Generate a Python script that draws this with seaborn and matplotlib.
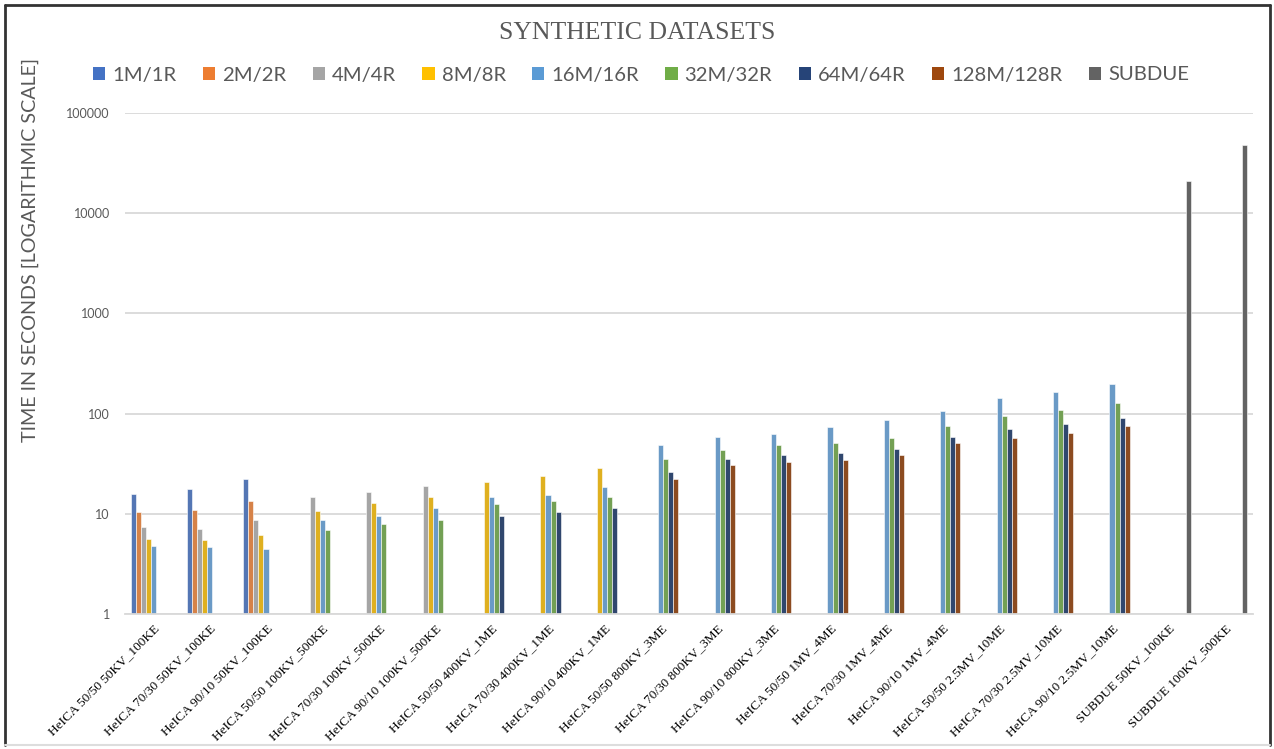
import numpy as np
import pandas as pd
import seaborn as sns
import matplotlib
matplotlib.use("Agg")
import matplotlib.pyplot as plt
from matplotlib.ticker import FixedLocator, FuncFormatter, NullLocator
from matplotlib.patches import Patch
from matplotlib.lines import Line2D

# ---- data -------------------------------------------------------------
categories = [
    "HeICA 50/50 50KV_100KE", "HeICA 70/30 50KV_100KE", "HeICA 90/10 50KV_100KE",
    "HeICA 50/50 100KV_500KE", "HeICA 70/30 100KV_500KE", "HeICA 90/10 100KV_500KE",
    "HeICA 50/50 400KV_1ME", "HeICA 70/30 400KV_1ME", "HeICA 90/10 400KV_1ME",
    "HeICA 50/50 800KV_3ME", "HeICA 70/30 800KV_3ME", "HeICA 90/10 800KV_3ME",
    "HeICA 50/50 1MV_4ME", "HeICA 70/30 1MV_4ME", "HeICA 90/10 1MV_4ME",
    "HeICA 50/50 2.5MV_10ME", "HeICA 70/30 2.5MV_10ME", "HeICA 90/10 2.5MV_10ME",
    "SUBDUE 50KV_100KE", "SUBDUE 100KV_500KE",
]
series_names = ["1M/1R", "2M/2R", "4M/4R", "8M/8R", "16M/16R",
                "32M/32R", "64M/64R", "128M/128R", "SUBDUE"]

N = None
t_1m   = [15.7, 17.5, 22.5, N, N, N, N, N, N, N, N, N, N, N, N, N, N, N, N, N]
t_2m   = [10.4, 10.9, 13.5, N, N, N, N, N, N, N, N, N, N, N, N, N, N, N, N, N]
t_4m   = [7.3, 7.1, 8.65, 14.8, 16.6, 18.8, N, N, N, N, N, N, N, N, N, N, N, N, N, N]
t_8m   = [5.6, 5.5, 6.1, 10.6, 12.7, 14.8, 20.6, 23.8, 28.6, N, N, N, N, N, N, N, N, N, N, N]
t_16m  = [4.75, 4.68, 4.47, 8.6, 9.6, 11.5, 14.7, 15.5, 18.6,
          48.6, 58.5, 63.0, 73.6, 85.7, 107.0, 144.5, 166.0, 198.0, N, N]
t_32m  = [N, N, N, 6.9, 7.9, 8.65, 12.6, 13.4, 14.6,
          35.2, 43.0, 48.2, 50.9, 57.5, 75.3, 94.8, 109.0, 127.0, N, N]
t_64m  = [N, N, N, N, N, N, 9.55, 10.5, 11.5,
          25.9, 34.9, 38.6, 40.1, 44.3, 58.5, 69.7, 78.2, 89.8, N, N]
t_128m = [N, N, N, N, N, N, N, N, N,
          22.5, 30.9, 32.6, 34.7, 38.6, 50.9, 57.5, 64.6, 75.3, N, N]
t_subdue = [N] * 18 + [21000, 47900]

series_values = [t_1m, t_2m, t_4m, t_8m, t_16m, t_32m, t_64m, t_128m, t_subdue]
colors = ["#4472C4", "#ED7D31", "#A5A5A5", "#FFC000", "#5B9BD5",
          "#70AD47", "#264478", "#9E480E", "#636363"]

y_ticks = [1, 10, 100, 1000, 10000, 100000]

rows = []
for name, vals in zip(series_names, series_values):
    for cat, v in zip(categories, vals):
        if v is not None:
            rows.append({"dataset": cat, "config": name, "time": v})
df = pd.DataFrame(rows)

# ---- figure -----------------------------------------------------------
sns.set_theme(style="white")
text_grey = "#595959"
sans = ["Lato", "DejaVu Sans"]
serif = ["Liberation Serif", "DejaVu Serif"]

W, H = 1274, 749
fig = plt.figure(figsize=(W / 100, H / 100), dpi=100)
fig.patch.set_facecolor("white")
ax = fig.add_axes([125 / W, 1 - 614 / H, (1253 - 125) / W, (614 - 113) / H])

sns.barplot(data=df, x="dataset", y="time", hue="config",
            order=categories, hue_order=series_names,
            palette=dict(zip(series_names, colors)),
            width=0.8, errorbar=None, dodge=True,
            edgecolor="white", linewidth=0.4, legend=False, ax=ax)

ax.set_yscale("log")
ax.set_ylim(1, 100000)
ax.set_xlim(-0.5, len(categories) - 0.5)
ax.yaxis.set_major_locator(FixedLocator(y_ticks))
ax.yaxis.set_minor_locator(NullLocator())
ax.yaxis.set_major_formatter(FuncFormatter(lambda v, p: f"{int(round(v))}"))
ax.grid(axis="y", color="#D9D9D9", linewidth=1.3)
ax.set_axisbelow(True)
for s in ["top", "right", "left"]:
    ax.spines[s].set_visible(False)
ax.spines["bottom"].set_color("#D9D9D9")
ax.spines["bottom"].set_linewidth(1.3)
ax.tick_params(axis="both", length=0)
ax.tick_params(axis="y", pad=11, labelsize=9, labelcolor=text_grey)
for lab in ax.get_yticklabels():
    lab.set_family(sans)

ax.set_xlabel("")
ax.set_ylabel("")
ax.set_xticks(range(len(categories)))
ax.set_xticklabels(categories, rotation=45, ha="right", rotation_mode="anchor",
                   family=serif, fontsize=9.5, color="black")
ax.tick_params(axis="x", pad=6)

fig.text(30 / W, 1 - 250 / H, "TIME IN SECONDS [LOGARITHMIC SCALE]",
         rotation=90, ha="center", va="center", fontsize=14.2,
         color=text_grey, family=sans)

fig.text(0.5, 1 - 33 / H, "SYNTHETIC DATASETS", ha="center", va="center",
         fontsize=18.5, color=text_grey, family=serif)

handles = [Patch(facecolor=c, edgecolor="none") for c in colors]
leg = fig.legend(handles, series_names, loc="center", ncol=9,
                 bbox_to_anchor=(641 / W, 1 - 75 / H), frameon=False,
                 handlelength=0.6, handleheight=0.6, handletextpad=0.35,
                 columnspacing=1.3, prop={"family": sans, "size": 14.6})
for t in leg.get_texts():
    t.set_color(text_grey)

# outer chart border
fig.add_artist(Line2D([5 / W, 5 / W], [1 - 5 / H, 1 - 745 / H],
                      transform=fig.transFigure, color="#333333", lw=2))
fig.add_artist(Line2D([1270 / W, 1270 / W], [1 - 5 / H, 1 - 745 / H],
                      transform=fig.transFigure, color="#333333", lw=2))
fig.add_artist(Line2D([5 / W, 1270 / W], [1 - 5 / H, 1 - 5 / H],
                      transform=fig.transFigure, color="#333333", lw=2))
fig.add_artist(Line2D([5 / W, 1270 / W], [1 - 745 / H, 1 - 745 / H],
                      transform=fig.transFigure, color="#DDDDDD", lw=1.5))

fig.savefig("out.png", dpi=100, facecolor="white")
